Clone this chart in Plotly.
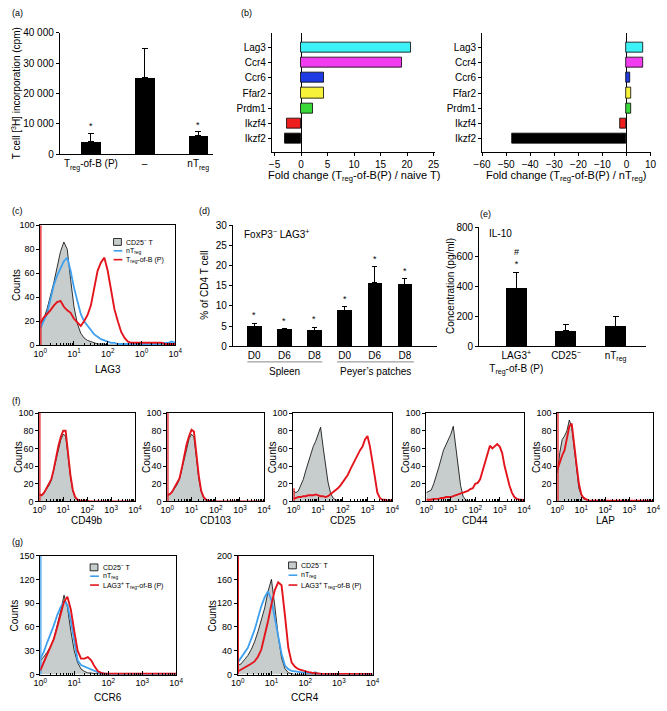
import numpy as np
import plotly.graph_objects as go

W, H = 667, 711
FONT = "Liberation Sans, Arial, sans-serif"
RED = "#E3141B"
BLUE = "#3FA0F0"
GRAYFILL = "#C6CDCC"

# ---------------- data ----------------
# (a)
a_cats = ["T<sub>reg</sub>-of-B (P)", "–", "nT<sub>reg</sub>"]
a_vals = [4300, 25200, 6200]
a_err = [2700, 9500, 1300]
a_sig = ["*", "", "*"]
a_ticks = [0, 10000, 20000, 30000, 40000]
a_ticktext = ["0", "10 000", "20 000", "30 000", "40 000"]

# (b)
b_genes = ["Lag3", "Ccr4", "Ccr6", "Ffar2", "Prdm1", "Ikzf4", "Ikzf2"]
b_colors = ["#3CF2F6", "#F23CEF", "#1E3BE3", "#F6F23A", "#3AD93A", "#EE1E1E", "#000000"]
b_vs_naive = [20.7, 19.0, 4.4, 4.4, 2.3, -2.6, -3.0]
b_vs_ntreg = [6.9, 6.9, 1.4, 2.1, 2.1, -2.7, -47.7]

# (d)
d_labels = ["D0", "D6", "D8", "D0", "D6", "D8"]
d_vals = [4.9, 4.1, 3.9, 8.8, 15.7, 15.3]
d_err = [0.8, 0.2, 0.8, 1.0, 4.0, 1.4]
d_groups = ["Spleen", "Peyer\u2019s patches"]

# (e)
e_cats = ["LAG3<sup>+</sup><br>T<sub>reg</sub>-of-B (P)", "CD25<sup>\u2212</sup>", "nT<sub>reg</sub>"]
e_vals = [387, 102, 135]
e_err = [110, 42, 66]
e_sig = ["#<br>*", "", ""]

# flow histograms: log10 fluorescence bins
LOG_BINS = [0.0, 0.1, 0.2, 0.3, 0.4, 0.5, 0.6, 0.7, 0.8, 0.9,
            1.0, 1.1, 1.2, 1.3, 1.4, 1.5, 1.6, 1.7, 1.8, 1.9,
            2.0, 2.1, 2.2, 2.3, 2.4, 2.5, 2.6, 2.7, 2.8, 2.9,
            3.0, 3.1, 3.2, 3.3, 3.4, 3.5, 3.6, 3.7, 3.8, 3.9, 4.0]

# (c) LAG3
c_cd25 = [18, 22, 30, 40, 52, 65, 78, 86, 80, 55,
          32, 18, 10, 6, 4, 3, 2, 1, 1, 1,
          0, 0, 0, 0, 0, 0, 0, 0, 0, 0,
          0, 0, 0, 0, 0, 0, 0, 0, 0, 0, 0]
c_ntreg = [14, 20, 26, 38, 50, 58, 64, 70, 73, 62,
           48, 36, 26, 20, 16, 12, 9, 7, 5, 4,
           3, 2, 2, 1, 1, 1, 1, 1, 1, 1,
           1, 1, 1, 1, 1, 1, 1, 2, 2, 3, 2]
c_tregb = [18, 23, 26, 29, 33, 36, 37, 32, 29, 27,
           22, 19, 16, 20, 25, 33, 48, 62, 69, 73,
           62, 45, 30, 20, 11, 6, 3, 2, 2, 2,
           2, 2, 2, 2, 2, 2, 2, 1, 1, 1, 1]
c_tregb_edge = 100

# (f) markers: control (gray) vs Treg-of-B (red)
f_markers = ["CD49b", "CD103", "CD25", "CD44", "LAP"]
f_gray = [
    [7, 8, 10, 14, 18, 24, 35, 48, 60, 70, 76, 74, 52, 28, 12, 4, 2, 1, 0, 0,
     0, 0, 0, 0, 0, 0, 0, 0, 0, 0, 0, 0, 0, 0, 0, 0, 0, 0, 0, 0, 0],
    [6, 8, 11, 15, 19, 25, 37, 50, 62, 71, 76, 73, 50, 26, 11, 4, 2, 1, 0, 0,
     0, 0, 0, 0, 0, 0, 0, 0, 0, 0, 0, 0, 0, 0, 0, 0, 0, 0, 0, 0, 0],
    [12, 10, 12, 18, 25, 35, 45, 55, 62, 68, 75, 84, 62, 40, 22, 10, 4, 2, 1, 0,
     0, 0, 0, 0, 0, 0, 0, 0, 0, 0, 0, 0, 0, 0, 0, 0, 0, 0, 0, 0, 0],
    [10, 12, 13, 20, 28, 38, 48, 58, 64, 70, 76, 85, 62, 38, 18, 6, 2, 1, 0, 0,
     0, 0, 0, 0, 0, 0, 0, 0, 0, 0, 0, 0, 0, 0, 0, 0, 0, 0, 0, 0, 0],
    [32, 55, 70, 74, 80, 92, 84, 60, 35, 15, 7, 3, 2, 1, 0, 0, 0, 0, 0, 0,
     0, 0, 0, 0, 0, 0, 0, 0, 0, 0, 0, 0, 0, 0, 0, 0, 0, 0, 0, 0, 0],
]
f_red = [
    [8, 7, 10, 15, 19, 25, 36, 50, 63, 73, 80, 80, 55, 30, 13, 5, 2, 1, 1, 1,
     1, 0, 0, 0, 0, 0, 0, 0, 0, 0, 0, 0, 0, 0, 0, 0, 0, 0, 0, 0, 0],
    [8, 8, 11, 16, 20, 26, 38, 52, 65, 74, 81, 79, 54, 29, 12, 5, 2, 1, 1, 0,
     0, 0, 0, 0, 0, 0, 0, 0, 0, 0, 0, 0, 0, 0, 0, 0, 0, 0, 0, 0, 0],
    [3, 4, 5, 5, 6, 6, 7, 7, 7, 8, 7, 6, 6, 5, 6, 8, 10, 12, 15, 18,
     22, 26, 30, 36, 42, 48, 54, 58, 62, 70, 74, 62, 45, 25, 10, 4, 2, 2, 1, 1, 2],
    [2, 2, 2, 3, 3, 3, 4, 4, 5, 5, 5, 6, 7, 8, 9, 10, 11, 12, 14, 15,
     20, 21, 25, 35, 45, 55, 63, 60, 62, 65, 62, 55, 40, 28, 18, 10, 5, 3, 2, 2, 1],
    [36, 45, 52, 58, 70, 85, 88, 68, 42, 20, 8, 4, 2, 1, 1, 1, 1, 1, 1, 1,
     1, 1, 1, 1, 1, 1, 1, 1, 1, 1, 1, 1, 1, 1, 1, 1, 1, 1, 1, 1, 1],
]
f_red_edge = [100, 100, 15, 0, 100]

# (g) CCR6 / CCR4
g_markers = ["CCR6", "CCR4"]
g_cd25 = [
    [18, 22, 28, 35, 45, 62, 80, 100, 85, 55, 30, 15, 7, 4, 2, 2, 1, 1, 0, 0,
     0, 0, 0, 0, 0, 0, 0, 0, 0, 0, 0, 0, 0, 0, 0, 0, 0, 0, 0, 0, 0],
    [15, 18, 25, 32, 42, 55, 72, 90, 112, 140, 160, 115, 65, 28, 10, 3, 1, 0, 0, 0,
     0, 0, 0, 0, 0, 0, 0, 0, 0, 0, 0, 0, 0, 0, 0, 0, 0, 0, 0, 0, 0],
]
g_ntreg = [
    [20, 28, 40, 50, 62, 75, 85, 92, 88, 68, 40, 18, 12, 10, 9, 7, 5, 3, 1, 1,
     0, 0, 0, 0, 0, 0, 0, 0, 0, 0, 0, 0, 0, 0, 0, 0, 0, 0, 0, 0, 0],
    [20, 28, 35, 45, 60, 75, 95, 115, 130, 140, 125, 95, 68, 35, 15, 9, 6, 5, 4, 3,
     2, 2, 2, 4, 1, 1, 0, 0, 0, 0, 0, 0, 0, 0, 0, 0, 0, 0, 0, 0, 0],
]
g_lag3 = [
    [5, 15, 25, 33, 45, 60, 78, 92, 98, 82, 55, 30, 20, 20, 22, 18, 10, 4, 2, 1,
     1, 1, 1, 1, 1, 1, 1, 1, 1, 1, 1, 1, 1, 1, 1, 1, 1, 1, 1, 1, 1],
    [5, 8, 12, 15, 18, 22, 30, 42, 65, 90, 118, 142, 155, 150, 100, 45, 20, 13, 9, 7,
     5, 4, 3, 2, 2, 1, 1, 1, 1, 1, 1, 1, 1, 1, 1, 1, 1, 1, 1, 1, 1],
]
g_ntreg_edge = [150, 0]
g_lag3_edge = [0, 200]
g_ymax = [150, 200]
g_dtick = [30, 40]

LOG_TICKTEXT = ["10<sup>0</sup>", "10<sup>1</sup>", "10<sup>2</sup>", "10<sup>3</sup>", "10<sup>4</sup>"]
LOG_TICKTEXT_C = ["10<sup>0</sup>", "10<sup>1</sup>", "10<sup>2</sup>", "10<sup>0</sup>", "10<sup>4</sup>"]
MINOR = [float(np.log10(k * 10 ** d)) for d in range(4) for k in range(2, 10)]


# ---------------- helpers ----------------
def px(x):
    return x / W


def py(y):
    return 1 - y / H


def xd(x0, x1):
    return [x0 / W, x1 / W]


def yd(top, bottom):
    return [1 - bottom / H, 1 - top / H]


def base_axis(**kw):
    d = dict(showline=True, linecolor="black", linewidth=1, showgrid=False,
             zeroline=False, ticks="outside", ticklen=3, tickwidth=1,
             tickcolor="black", tickfont=dict(size=10, color="black", family=FONT))
    d.update(kw)
    return d


fig = go.Figure()
layout = {}
annotations = []
shapes = []


def ann(text, x, y, size=10, xanchor="center", yanchor="middle", angle=0, **kw):
    annotations.append(dict(text=text, x=px(x), y=py(y), xref="paper", yref="paper",
                            showarrow=False, xanchor=xanchor, yanchor=yanchor,
                            textangle=angle, font=dict(size=size, color="black", family=FONT), **kw))


# ---------------- (a) ----------------
fig.add_trace(go.Bar(x=[0, 1, 2], y=a_vals, width=0.37, marker=dict(color="black", line=dict(width=0)),
                     error_y=dict(type="data", symmetric=False, array=a_err, arrayminus=[0, 0, 0],
                                  color="black", thickness=1, width=3),
                     xaxis="x", yaxis="y", showlegend=False))
for i, s in enumerate(a_sig):
    if s:
        annotations.append(dict(text=s, x=i, y=a_vals[i] + a_err[i], xref="x", yref="y",
                                showarrow=False, yanchor="bottom", yshift=0,
                                font=dict(size=9, color="black", family=FONT)))
layout["xaxis"] = base_axis(domain=xd(53, 210), anchor="y", range=[-0.58, 2.28],
                            tickvals=[0, 1, 2], ticktext=a_cats, ticks="")
layout["yaxis"] = base_axis(domain=yd(27, 151), anchor="x", range=[0, 40000],
                            tickvals=a_ticks, ticktext=a_ticktext)
ann("T cell [<sup>3</sup>H] incorporation (cpm)", 9, 89, size=10, angle=-90)
ann("(a)", 2, 7, size=9, xanchor="left")

# ---------------- (b) ----------------
for k, (vals, xa, ya) in enumerate([(b_vs_naive, "x2", "y2"), (b_vs_ntreg, "x3", "y3")]):
    fig.add_trace(go.Bar(y=b_genes, x=vals, orientation="h", width=0.66,
                         marker=dict(color=b_colors, line=dict(color="black", width=0.8)),
                         xaxis=xa, yaxis=ya, showlegend=False))
layout["xaxis2"] = base_axis(domain=xd(270, 437), anchor="y2", range=[-5.5, 25.3], dtick=5,
                             zeroline=True, zerolinecolor="black", zerolinewidth=1)
layout["yaxis2"] = base_axis(domain=yd(27, 149), anchor="x2", type="category",
                             categoryorder="array", categoryarray=b_genes,
                             range=[6.9, -0.97])
layout["xaxis3"] = base_axis(domain=xd(485, 658), anchor="y3", range=[-60, 10.3], dtick=10,
                             zeroline=True, zerolinecolor="black", zerolinewidth=1)
layout["yaxis3"] = base_axis(domain=yd(27, 149), anchor="x3", type="category",
                             categoryorder="array", categoryarray=b_genes,
                             range=[6.9, -0.97])
ann("Fold change (T<sub>reg</sub>-of-B(P) / naive T)", 354, 173, size=11)
ann("Fold change (T<sub>reg</sub>-of-B(P) / nT<sub>reg</sub>)", 571, 173, size=11)
ann("(b)", 236, 7, size=9, xanchor="left")


# ---------------- histogram helper ----------------
def hist_panel(n, dom_x, dom_y, ymax, dtick, ticktext, gray=None, blue=None, red=None,
               blue_edge=0, red_edge=0, red_w=1.9):
    xa, ya = f"x{n}", f"y{n}"
    if gray is not None:
        fig.add_trace(go.Scatter(x=LOG_BINS, y=gray, mode="lines", fill="tozeroy", fillcolor=GRAYFILL,
                                 line=dict(color="black", width=0.8), xaxis=xa, yaxis=ya, showlegend=False))
    if blue is not None:
        fig.add_trace(go.Scatter(x=LOG_BINS, y=blue, mode="lines", line=dict(color=BLUE, width=1.8),
                                 xaxis=xa, yaxis=ya, showlegend=False))
        if blue_edge:
            fig.add_trace(go.Scatter(x=[LOG_BINS[0], LOG_BINS[0]], y=[0, blue_edge], mode="lines",
                                     line=dict(color=BLUE, width=2.5), xaxis=xa, yaxis=ya, showlegend=False))
    if red is not None:
        fig.add_trace(go.Scatter(x=LOG_BINS, y=red, mode="lines", line=dict(color=RED, width=red_w),
                                 xaxis=xa, yaxis=ya, showlegend=False))
        if red_edge:
            fig.add_trace(go.Scatter(x=[LOG_BINS[0], LOG_BINS[0]], y=[0, red_edge], mode="lines",
                                     line=dict(color=RED, width=2.5), xaxis=xa, yaxis=ya, showlegend=False))
    fs = 9
    layout[f"xaxis{n}"] = base_axis(domain=xd(*dom_x), anchor=ya, range=[0, 4], mirror=True,
                                    tickvals=[0, 1, 2, 3, 4], ticktext=ticktext, ticks="inside", ticklen=4,
                                    tickfont=dict(size=fs, color="black", family=FONT),
                                    minor=dict(tickvals=MINOR, ticks="inside", ticklen=2,
                                               tickcolor="black", tickwidth=0.8))
    layout[f"yaxis{n}"] = base_axis(domain=yd(*dom_y), anchor=xa, range=[0, ymax], dtick=dtick,
                                    mirror=True, ticklen=3,
                                    tickfont=dict(size=fs, color="black", family=FONT))


# ---------------- (c) ----------------
hist_panel(4, (33, 171), (223, 345), 100, 20, LOG_TICKTEXT_C,
           gray=c_cd25, blue=c_ntreg, red=c_tregb, red_edge=c_tregb_edge)
ann("LAG3", 102, 370, size=10)
ann("Counts", 8, 284, size=10, angle=-90)
ann("(c)", 2, 209, size=9, xanchor="left")


def legend_block(x0, y0, step, labels, size=7):
    shapes.append(dict(type="rect", xref="paper", yref="paper", x0=px(x0), x1=px(x0 + 8),
                       y0=py(y0 + 3.5), y1=py(y0 - 3.5), fillcolor=GRAYFILL,
                       line=dict(color="black", width=0.8)))
    shapes.append(dict(type="line", xref="paper", yref="paper", x0=px(x0), x1=px(x0 + 9),
                       y0=py(y0 + step), y1=py(y0 + step), line=dict(color=BLUE, width=1.6)))
    shapes.append(dict(type="line", xref="paper", yref="paper", x0=px(x0), x1=px(x0 + 9),
                       y0=py(y0 + 2 * step), y1=py(y0 + 2 * step), line=dict(color=RED, width=1.6)))
    for i, lab in enumerate(labels):
        ann(lab, x0 + 11, y0 + i * step, size=size, xanchor="left")


legend_block(108, 240, 9, ["CD25<sup>\u2212</sup> T", "nT<sub>reg</sub>", "T<sub>reg</sub>-of-B (P)"])

# ---------------- (d) ----------------
fig.add_trace(go.Bar(x=[0, 1, 2, 3, 4, 5], y=d_vals, width=0.49, marker=dict(color="black", line=dict(width=0)),
                     error_y=dict(type="data", symmetric=False, array=d_err, arrayminus=[0] * 6,
                                  color="black", thickness=1, width=2.5),
                     xaxis="x5", yaxis="y5", showlegend=False))
for i in range(6):
    annotations.append(dict(text="*", x=i, y=d_vals[i] + d_err[i], xref="x5", yref="y5",
                            showarrow=False, yanchor="bottom", yshift=1,
                            font=dict(size=9, color="black", family=FONT)))
layout["xaxis5"] = base_axis(domain=xd(230, 439), anchor="y5", range=[-0.71, 6.07],
                             tickvals=[0, 1, 2, 3, 4, 5], ticktext=d_labels, ticks="")
layout["yaxis5"] = base_axis(domain=yd(223, 346), anchor="x5", range=[0, 30], dtick=5)
for (g0, g1), name in zip([(-0.23, 2.26), (2.75, 5.3)], d_groups):
    shapes.append(dict(type="line", xref="x5", yref="paper", x0=g0, x1=g1, y0=py(362), y1=py(362),
                       line=dict(color="#888888", width=1)))
    annotations.append(dict(text=name, x=(g0 + g1) / 2, y=py(372), xref="x5", yref="paper",
                            showarrow=False, font=dict(size=10, color="black", family=FONT)))
ann("FoxP3<sup>\u2212</sup> LAG3<sup>+</sup>", 239, 232, size=10, xanchor="left")
ann("% of CD4 T cell", 201, 284, size=10, angle=-90)
ann("(d)", 193, 209, size=9, xanchor="left")

# ---------------- (e) ----------------
fig.add_trace(go.Bar(x=[0, 1, 2], y=e_vals, width=0.43, marker=dict(color="black", line=dict(width=0)),
                     error_y=dict(type="data", symmetric=False, array=e_err, arrayminus=[0] * 3,
                                  color="black", thickness=1, width=3),
                     xaxis="x6", yaxis="y6", showlegend=False))
for i, s in enumerate(e_sig):
    if s:
        annotations.append(dict(text=s, x=i, y=e_vals[i] + e_err[i], xref="x6", yref="y6",
                                showarrow=False, yanchor="bottom", yshift=1,
                                font=dict(size=9, color="black", family=FONT)))
layout["xaxis6"] = base_axis(domain=xd(482, 653), anchor="y6", range=[-0.75, 2.62],
                             tickvals=[0, 1, 2], ticktext=e_cats, ticks="")
layout["yaxis6"] = base_axis(domain=yd(225, 346), anchor="x6", range=[0, 800], dtick=200)
ann("IL-10", 490, 231, size=10, xanchor="left")
ann("Concentration (pg/ml)", 452, 285, size=10, angle=-90)
ann("(e)", 481, 212, size=9, xanchor="left")

# ---------------- (f) ----------------
f_x = [(32, 130), (163, 262), (292, 393), (428, 528), (562, 660)]
for k in range(5):
    n = 7 + k
    hist_panel(n, f_x[k], (414, 504), 100, 20, LOG_TICKTEXT,
               gray=f_gray[k], red=f_red[k], red_edge=f_red_edge[k])
    ann(f_markers[k], (f_x[k][0] + f_x[k][1]) / 2, 523, size=10)
    ann("Counts", f_x[k][0] - 22, 459, size=10, angle=-90)
ann("(f)", 2, 402, size=9, xanchor="left")

# ---------------- (g) ----------------
g_x = [(33, 172), (235, 373)]
for k in range(2):
    n = 12 + k
    hist_panel(n, g_x[k], (559, 680), g_ymax[k], g_dtick[k], LOG_TICKTEXT,
               gray=g_cd25[k], blue=g_ntreg[k], red=g_lag3[k],
               blue_edge=g_ntreg_edge[k], red_edge=g_lag3_edge[k])
    ann(g_markers[k], (g_x[k][0] + g_x[k][1]) / 2, 703, size=10)
    ann("Counts", g_x[k][0] - 26, 620, size=10, angle=-90)
legend_block(84, 571, 9, ["CD25<sup>\u2212</sup> T", "nT<sub>reg</sub>", "LAG3<sup>+</sup> T<sub>reg</sub>-of-B (P)"])
legend_block(287, 569, 10, ["CD25<sup>\u2212</sup> T", "nT<sub>reg</sub>", "LAG3<sup>+</sup> T<sub>reg</sub>-of-B (P)"])
ann("(g)", 2, 545, size=9, xanchor="left")

fig.update_layout(width=W, height=H, margin=dict(l=0, r=0, t=0, b=0),
                  paper_bgcolor="white", plot_bgcolor="white", showlegend=False,
                  font=dict(family=FONT, color="black", size=10),
                  bargap=0, annotations=annotations, shapes=shapes, **layout)
fig.write_html("out.html", config={"displayModeBar": False},
               post_script="document.body.style.margin='0px';document.body.style.overflow='hidden';")
